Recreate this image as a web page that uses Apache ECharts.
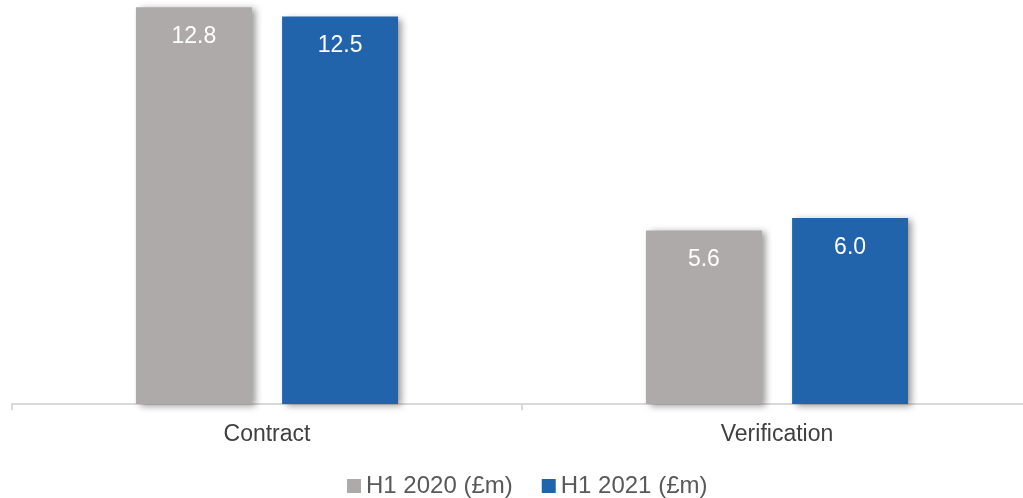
<!DOCTYPE html>
<html>
<head>
<meta charset="utf-8">
<script src="https://cdn.jsdelivr.net/npm/echarts@6/dist/echarts.min.js"></script>
<style>
  html, body { margin: 0; padding: 0; background: #ffffff; overflow: hidden; }
  #chart { width: 1033px; height: 498px; }
</style>
</head>
<body>
<div id="chart"></div>
<script>
// Revenue by stream, half-year comparison (£m)
const categories = ['Contract', 'Verification'];
const seriesNames = ['H1 2020 (£m)', 'H1 2021 (£m)'];
const h1_2020 = [12.8, 5.6];
const h1_2021 = [12.5, 6.0];

const colors = ['#AEAAAA', '#2264AB'];
const font = '"Liberation Sans", Arial, sans-serif';

const barStyle = (color) => ({
  color: color,
  shadowColor: 'rgba(0,0,0,0.4)',
  shadowBlur: 7,
  shadowOffsetX: 4,
  shadowOffsetY: 2
});

const labelStyle = {
  show: true,
  position: 'insideTop',
  distance: 18,
  color: '#ffffff',
  fontFamily: font,
  fontSize: 23,
  formatter: (p) => p.value.toFixed(1)
};

const chart = echarts.init(document.getElementById('chart'), null, { renderer: 'canvas' });
chart.setOption({
  animation: false,
  grid: { left: 12, top: 1, right: 1, bottom: 94, containLabel: false },
  legend: {
    top: 474,
    left: 347,
    padding: 0,
    itemWidth: 14,
    itemHeight: 14,
    itemGap: 29,
    icon: 'rect',
    textStyle: { fontFamily: font, fontSize: 24, color: '#595959' },
    data: seriesNames
  },
  xAxis: {
    type: 'category',
    data: categories,
    boundaryGap: true,
    axisLine: { lineStyle: { color: '#D9D9D9', width: 2 } },
    axisTick: { show: true, length: 6, lineStyle: { color: '#D9D9D9', width: 2 } },
    axisLabel: { fontFamily: font, fontSize: 23, color: '#404040', margin: 19 }
  },
  yAxis: {
    type: 'value',
    min: 0,
    max: 13,
    show: false,
    splitLine: { show: false }
  },
  series: [
    {
      name: seriesNames[0],
      type: 'bar',
      data: h1_2020,
      barWidth: 116,
      barGap: '26%',
      itemStyle: barStyle(colors[0]),
      label: labelStyle
    },
    {
      name: seriesNames[1],
      type: 'bar',
      data: h1_2021,
      barWidth: 116,
      barGap: '26%',
      itemStyle: barStyle(colors[1]),
      label: labelStyle
    }
  ]
});
</script>
</body>
</html>
